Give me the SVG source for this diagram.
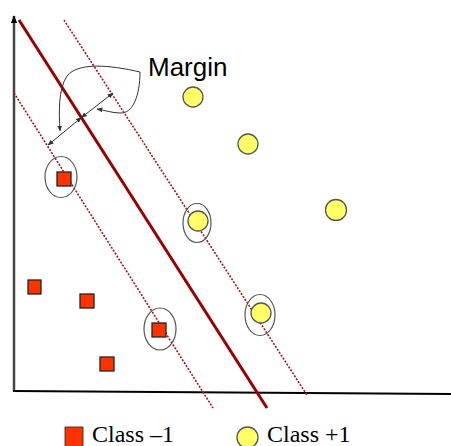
<svg xmlns="http://www.w3.org/2000/svg" width="451" height="446" viewBox="0 0 451 446">
<style>
.pos{fill:#ffff66;stroke:#555;stroke-width:1.3}
.neg{fill:#ff3300;stroke:#222;stroke-width:1.3}
.sv{fill:none;stroke:#555;stroke-width:1.2}
.margin{stroke:#b01010;stroke-width:1.6;stroke-dasharray:2 1.5;fill:none}
.thin{stroke:#333;stroke-width:1;fill:none}
.legend{font-family:"Liberation Serif",serif;font-size:24px;fill:#000}
</style>
<defs>
<marker id="ah" viewBox="0 0 10 10" refX="9" refY="5" markerWidth="6" markerHeight="6" orient="auto-start-reverse" markerUnits="userSpaceOnUse">
<path d="M0,1 L10,5 L0,9 z" fill="#333"/>
</marker>
<marker id="axh" viewBox="0 0 10 10" refX="9" refY="5" markerWidth="8" markerHeight="8" orient="auto" markerUnits="userSpaceOnUse">
<path d="M0,1 L10,5 L0,9 z" fill="#000"/>
</marker>
</defs>
<rect width="451" height="446" fill="#fff"/>
<g id="axes">
<line x1="14" y1="391" x2="14" y2="16" stroke="#444" stroke-width="2.5" marker-end="url(#axh)"/>
<line x1="13" y1="391" x2="451" y2="394" stroke="#000" stroke-width="2"/>
</g>
<g id="connectors">
<line x1="19" y1="20" x2="267" y2="408" stroke="#990000" stroke-width="3"/>
<line class="margin" x1="64" y1="20" x2="307" y2="395"/>
<line class="margin" x1="14" y1="93" x2="213" y2="408"/>
<line class="thin" x1="48" y1="145" x2="81.5" y2="117.5" marker-start="url(#ah)" marker-end="url(#ah)"/>
<line class="thin" x1="81.5" y1="117.5" x2="113" y2="93" marker-start="url(#ah)" marker-end="url(#ah)"/>
<path class="thin" d="M140,72 C110,65 78,62 67,76 C58,90 59,112 60,131" marker-end="url(#ah)"/>
<path class="thin" d="M140,72 C140,95 133,114 120,113 C112,113 104,110 97,109" marker-end="url(#ah)"/>
</g>
<g id="label-margin">
<text x="148" y="76" font-family="Liberation Sans, Arial, sans-serif" font-size="26" fill="#000">Margin</text>
</g>
<g id="class-plus">
<circle class="pos" cx="193" cy="97" r="10"/>
<circle class="pos" cx="248" cy="144" r="10"/>
<circle class="pos" cx="336" cy="210" r="10.5"/>
<circle class="pos" cx="198" cy="221" r="10"/>
<circle class="pos" cx="261" cy="313" r="10"/>
</g>
<g id="class-minus">
<rect class="neg" x="57" y="172" width="14" height="14"/>
<rect class="neg" x="28" y="280" width="13" height="14"/>
<rect class="neg" x="80" y="294" width="14" height="14"/>
<rect class="neg" x="100" y="357" width="14" height="14"/>
<rect class="neg" x="152" y="323" width="14" height="14"/>
</g>
<g id="support-vectors">
<ellipse class="sv" cx="61" cy="177" rx="16" ry="20.5"/>
<ellipse class="sv" cx="197" cy="223" rx="14" ry="19.5"/>
<ellipse class="sv" cx="260" cy="315" rx="15" ry="20.5"/>
<ellipse class="sv" cx="160" cy="329" rx="16" ry="21"/>
</g>
<g id="legend">
<rect x="65" y="427" width="18" height="22" fill="#ff3300" stroke="#222" stroke-width="0.8"/>
<text class="legend" x="92" y="442">Class –1</text>
<circle cx="247.5" cy="437.5" r="10.5" fill="#ffff66" stroke="#555" stroke-width="1.3"/>
<text class="legend" x="267" y="442">Class +1</text>
</g>
</svg>
